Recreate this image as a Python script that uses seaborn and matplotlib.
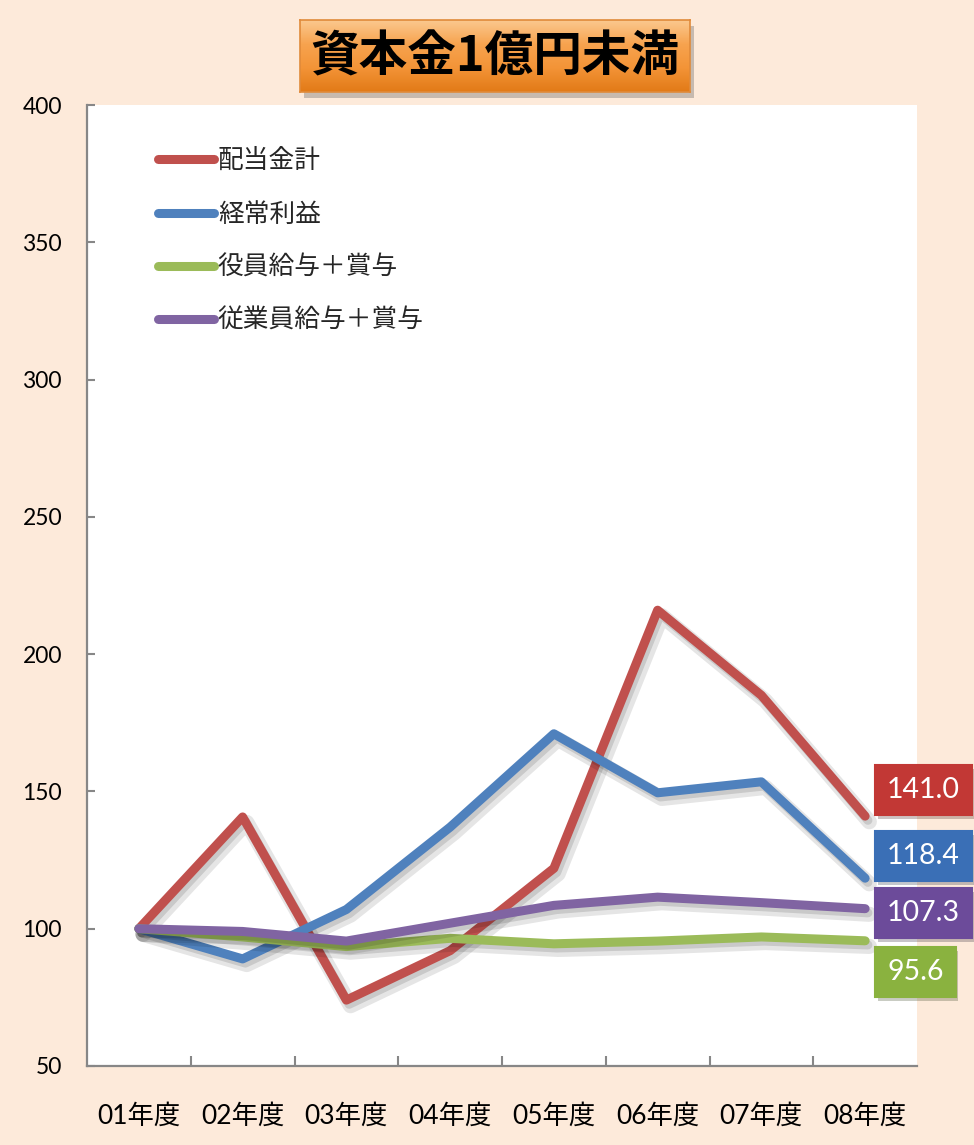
import numpy as np
import pandas as pd
import matplotlib
matplotlib.use('Agg')
import matplotlib.pyplot as plt
import matplotlib.patheffects as pe
from matplotlib.lines import Line2D
from matplotlib.colors import LinearSegmentedColormap
import seaborn as sns

# values (index, 01年度 = 100)
years = ['01年度', '02年度', '03年度', '04年度', '05年度', '06年度', '07年度', '08年度']
series_names = ['配当金計', '経常利益', '役員給与＋賞与', '従業員給与＋賞与']
dividends = [100, 140.7, 74, 92, 122, 216, 185, 141.0]
profit = [100, 89, 107, 137, 171, 149.5, 153.5, 118.4]
officers = [100, 97, 93.5, 96.5, 94.5, 95.5, 97, 95.6]
employees = [100, 99, 95.5, 102, 108.5, 111.5, 109.5, 107.3]
y_ticks = [50, 100, 150, 200, 250, 300, 350, 400]
title = '資本金1億円未満'

line_colors = ['#C0504D', '#4F81BD', '#9BBB59', '#8064A2']
box_colors = ['#C23835', '#3A6FB6', '#8AB23F', '#6C4B9A']
box_dy = [26, 22, -31, -4]   # label box offsets (pixels) so they do not overlap

df = pd.DataFrame({
    '年度': years * 4,
    '系列': np.repeat(series_names, len(years)),
    '値': dividends + profit + officers + employees,
})

sns.set_style('white')
plt.rcParams['font.family'] = ['Lato', 'Noto Sans CJK JP', 'DejaVu Sans']

fig = plt.figure(figsize=(9.74, 11.45), dpi=100)
fig.patch.set_facecolor('#FDEADA')
ax = fig.add_axes([87 / 974, 1 - 1066 / 1145, 830 / 974, 961 / 1145])
ax.set_facecolor('white')

shadow = [pe.SimpleLineShadow(offset=(3, -4), shadow_color='black', alpha=0.10, linewidth=11),
          pe.SimpleLineShadow(offset=(2, -3), shadow_color='black', alpha=0.12),
          pe.Normal()]

sns.lineplot(data=df, x='年度', y='値', hue='系列', hue_order=series_names,
             palette=line_colors, linewidth=6.5, sort=False, legend=False, ax=ax,
             solid_capstyle='round', solid_joinstyle='round')
for ln in ax.get_lines():
    ln.set_path_effects(shadow)

ax.set_xlim(-0.5, 7.5)
ax.set_ylim(50, 400)
ax.set_yticks(y_ticks)
ax.set_xticks(range(len(years)))
ax.set_xticklabels(years)
ax.set_xticks(np.arange(0.5, len(years) - 1), minor=True)
ax.set_xlabel('')
ax.set_ylabel('')

for s in ['top', 'right']:
    ax.spines[s].set_visible(False)
for s in ['left', 'bottom']:
    ax.spines[s].set_color('#878787')
    ax.spines[s].set_linewidth(1.6)

ax.tick_params(axis='y', direction='in', length=6, width=1.5, color='#878787',
               left=True, labelsize=16.5, pad=18, labelcolor='black')
ax.tick_params(axis='x', which='major', length=0, labelsize=19, pad=27, labelcolor='black')
ax.tick_params(axis='x', which='minor', direction='in', length=7, width=1.5,
               color='#878787', bottom=True)

# legend
handles = [Line2D([], [], color=c, lw=6.5, solid_capstyle='round') for c in line_colors]
ax.legend(handles, series_names, loc='upper left', bbox_to_anchor=(0.085, 0.955),
          frameon=False, handlelength=2.2, handletextpad=0.15, labelspacing=1.1,
          fontsize=18.5, borderaxespad=0, borderpad=0)

# end value labels
last_vals = [dividends[-1], profit[-1], officers[-1], employees[-1]]
for v, col, dy in zip(last_vals, box_colors, box_dy):
    ann = ax.annotate(f'{v:.1f}', xy=(len(years) - 1, v), xytext=(22, dy),
                      textcoords='offset pixels', ha='left', va='center',
                      color='white', fontsize=20.5, annotation_clip=False,
                      bbox=dict(boxstyle='square,pad=0.42', fc=col, ec=col, lw=1.5))
    ann.get_bbox_patch().set_path_effects(
        [pe.SimplePatchShadow(offset=(2, -3), alpha=0.25), pe.Normal()])

# title box with orange gradient
tax = fig.add_axes([300 / 974, 1 - 92 / 1145, 390 / 974, 72 / 1145])
grad = LinearSegmentedColormap.from_list('tg', ['#FBC88E', '#F7A34F', '#F39437', '#E27A17'])
tax.imshow(np.linspace(0, 1, 100).reshape(-1, 1), aspect='auto', cmap=grad,
           extent=(0, 1, 0, 1), origin='upper')
tax.set_xlim(0, 1)
tax.set_ylim(0, 1)
tax.set_xticks([])
tax.set_yticks([])
for s in tax.spines.values():
    s.set_color('#E08A3A')
    s.set_linewidth(1.2)
tax.patch.set_path_effects([pe.SimplePatchShadow(offset=(3, -4), alpha=0.3), pe.Normal()])
tax.text(0.5, 0.48, title, ha='center', va='center', fontsize=35, fontweight='bold',
         family=['Noto Sans CJK JP', 'DejaVu Sans'], color='black')

fig.savefig('out.png', dpi=100, facecolor=fig.get_facecolor())
